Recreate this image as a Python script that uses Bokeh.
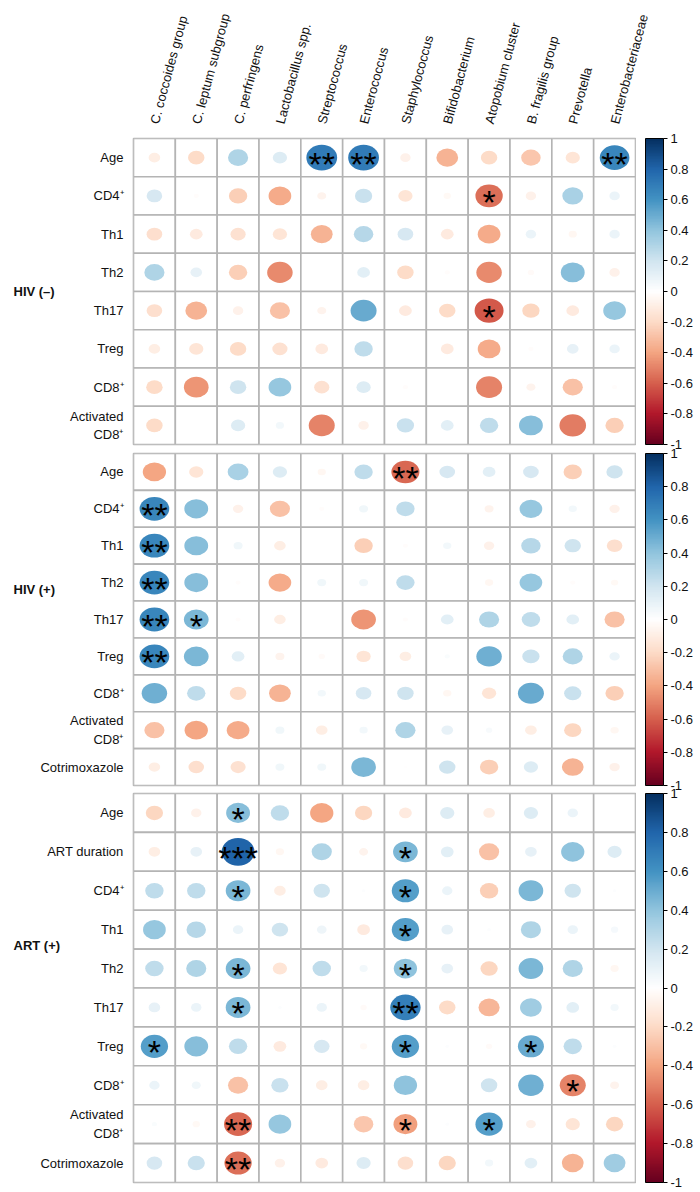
import math
import numpy as np
from bokeh.plotting import figure
from bokeh.models import (ColumnDataSource, LinearColorMapper, ColorBar, FixedTicker,
                          CustomJSTickFormatter, FactorRange, Range1d)
from bokeh.layouts import column, row
from bokeh.embed import file_html
from bokeh.resources import INLINE
from bokeh.core.properties import value

# ---------------- data ----------------
taxa = ["C. coccoides group", "C. leptum subgroup", "C. perfringens", "Lactobacillus spp.",
        "Streptococcus", "Enterococcus", "Staphylococcus", "Bifidobacterium",
        "Atopobium cluster", "B. fragilis group", "Prevotella", "Enterobacteriaceae"]

groups = ["HIV (–)", "HIV (+)", "ART (+)"]

rows_hiv_neg = ["Age", "CD4⁺", "Th1", "Th2", "Th17", "Treg", "CD8⁺", "Activated\nCD8⁺"]
r_hiv_neg = [
    [-0.10, -0.20, 0.30, 0.15, 0.70, 0.70, -0.08, -0.35, -0.20, -0.28, -0.15, 0.65],
    [0.18, -0.02, -0.25, -0.38, -0.06, 0.22, -0.15, -0.04, -0.55, -0.08, 0.32, 0.08],
    [-0.18, -0.12, -0.17, -0.15, -0.35, 0.28, 0.18, -0.12, -0.38, 0.08, -0.05, 0.08],
    [0.30, 0.10, -0.25, -0.48, 0.00, 0.12, -0.20, -0.02, -0.48, -0.03, 0.42, -0.08],
    [-0.18, -0.35, -0.08, -0.30, -0.06, 0.50, -0.12, -0.20, -0.62, -0.22, -0.12, 0.38],
    [-0.10, -0.15, -0.20, -0.17, -0.12, 0.25, 0.00, -0.12, -0.38, -0.02, 0.10, 0.08],
    [-0.20, -0.45, 0.20, 0.38, -0.17, 0.15, -0.02, 0.00, -0.50, -0.06, -0.30, -0.02],
    [-0.20, 0.00, 0.15, 0.05, -0.50, -0.08, 0.22, 0.12, 0.25, 0.42, -0.52, -0.25],
]
sig_hiv_neg = [
    ["", "", "", "", "**", "**", "", "", "", "", "", "**"],
    ["", "", "", "", "", "", "", "", "*", "", "", ""],
    ["", "", "", "", "", "", "", "", "", "", "", ""],
    ["", "", "", "", "", "", "", "", "", "", "", ""],
    ["", "", "", "", "", "", "", "", "*", "", "", ""],
    ["", "", "", "", "", "", "", "", "", "", "", ""],
    ["", "", "", "", "", "", "", "", "", "", "", ""],
    ["", "", "", "", "", "", "", "", "", "", "", ""],
]

rows_hiv_pos = ["Age", "CD4⁺", "Th1", "Th2", "Th17", "Treg", "CD8⁺", "Activated\nCD8⁺", "Cotrimoxazole"]
r_hiv_pos = [
    [-0.40, -0.15, 0.32, 0.15, -0.05, 0.25, -0.58, 0.18, 0.12, 0.18, -0.25, 0.20],
    [0.65, 0.42, -0.08, -0.30, -0.02, 0.06, 0.25, 0.00, -0.06, 0.38, 0.05, -0.08],
    [0.65, 0.42, 0.06, -0.10, 0.00, -0.25, -0.02, 0.05, -0.08, 0.28, 0.20, -0.18],
    [0.65, 0.42, -0.02, -0.38, 0.06, 0.06, 0.25, 0.00, -0.05, 0.38, -0.02, -0.04],
    [0.65, 0.45, -0.02, -0.10, 0.00, -0.45, -0.02, 0.12, 0.30, 0.25, 0.12, -0.30],
    [0.65, 0.45, 0.12, -0.06, -0.03, -0.15, -0.10, 0.02, 0.48, 0.22, 0.30, 0.08],
    [0.48, 0.25, -0.20, -0.35, 0.05, 0.18, 0.20, -0.05, -0.15, 0.50, 0.22, -0.25],
    [-0.30, -0.40, -0.38, 0.06, -0.10, 0.05, 0.30, 0.10, 0.03, -0.10, -0.22, -0.05],
    [-0.10, -0.18, -0.17, 0.06, 0.06, 0.45, -0.01, 0.20, -0.25, 0.15, -0.35, -0.08],
]
sig_hiv_pos = [
    ["", "", "", "", "", "", "**", "", "", "", "", ""],
    ["**", "", "", "", "", "", "", "", "", "", "", ""],
    ["**", "", "", "", "", "", "", "", "", "", "", ""],
    ["**", "", "", "", "", "", "", "", "", "", "", ""],
    ["**", "*", "", "", "", "", "", "", "", "", "", ""],
    ["**", "", "", "", "", "", "", "", "", "", "", ""],
    ["", "", "", "", "", "", "", "", "", "", "", ""],
    ["", "", "", "", "", "", "", "", "", "", "", ""],
    ["", "", "", "", "", "", "", "", "", "", "", ""],
]

rows_art = ["Age", "ART duration", "CD4⁺", "Th1", "Th2", "Th17", "Treg", "CD8⁺",
            "Activated\nCD8⁺", "Cotrimoxazole"]
r_art = [
    [-0.22, -0.08, 0.42, 0.25, -0.40, -0.22, -0.12, 0.15, -0.10, 0.15, 0.08, 0.00],
    [-0.10, 0.10, 0.80, -0.05, 0.30, -0.06, 0.45, 0.12, -0.30, 0.10, 0.40, 0.15],
    [0.25, 0.25, 0.45, -0.10, 0.20, 0.01, 0.55, 0.08, -0.25, 0.45, 0.20, 0.01],
    [0.38, 0.28, 0.08, 0.20, 0.07, -0.12, 0.55, 0.10, 0.01, 0.30, 0.08, 0.04],
    [0.25, 0.30, 0.45, -0.15, 0.25, 0.05, 0.40, 0.10, -0.22, 0.45, 0.30, -0.05],
    [0.10, 0.08, 0.45, 0.01, 0.08, -0.03, 0.68, -0.20, -0.33, 0.35, 0.12, 0.05],
    [0.55, 0.42, 0.25, -0.12, 0.18, -0.04, 0.55, 0.01, -0.03, 0.50, 0.25, 0.01],
    [0.08, 0.06, -0.30, 0.22, -0.10, -0.10, 0.40, 0.00, 0.20, 0.48, -0.50, -0.06],
    [0.02, -0.04, -0.58, 0.38, 0.00, -0.28, -0.42, 0.01, 0.55, -0.07, -0.15, -0.22],
    [0.18, 0.22, -0.55, -0.08, -0.12, 0.15, -0.18, -0.22, 0.05, 0.12, -0.35, 0.35],
]
sig_art = [
    ["", "", "*", "", "", "", "", "", "", "", "", ""],
    ["", "", "***", "", "", "", "*", "", "", "", "", ""],
    ["", "", "*", "", "", "", "*", "", "", "", "", ""],
    ["", "", "", "", "", "", "*", "", "", "", "", ""],
    ["", "", "*", "", "", "", "*", "", "", "", "", ""],
    ["", "", "*", "", "", "", "**", "", "", "", "", ""],
    ["*", "", "", "", "", "", "*", "", "", "*", "", ""],
    ["", "", "", "", "", "", "", "", "", "", "*", ""],
    ["", "", "**", "", "", "", "*", "", "*", "", "", ""],
    ["", "", "**", "", "", "", "", "", "", "", "", ""],
]

cb_ticks = [-1, -0.8, -0.6, -0.4, -0.2, 0, 0.2, 0.4, 0.6, 0.8, 1]

# ---------------- style ----------------
FONT = "Liberation Sans"
GRID = "#b4b4b4"
TXT = "#111111"
anchors = ["#67001F", "#B2182B", "#D6604D", "#F4A582", "#FDDBC7", "#FFFFFF",
           "#D1E5F0", "#92C5DE", "#4393C3", "#2166AC", "#053061"]


def ramp(cols, n=200):
    rgb = np.array([[int(c[i:i + 2], 16) for i in (1, 3, 5)] for c in cols], dtype=float)
    pos = np.linspace(0, 1, len(cols))
    t = np.linspace(0, 1, n)
    out = np.stack([np.interp(t, pos, rgb[:, k]) for k in range(3)], axis=1)
    return ["#%02x%02x%02x" % tuple(int(round(v)) for v in rw) for rw in out]


palette = ramp(anchors)
mapper = LinearColorMapper(palette=palette, low=-1, high=1)

FRAME_W = 502
LEFT_W = 132
HEAD_H = 125          # height of the header strip
RIGHT_W = 63          # colour-bar column
xr = FactorRange(*taxa)

# (frame height, top border, bottom border, group label position in rows from top)
layout_spec = [(306, 13, 5, 4.0), (332, 4, 4, 3.7), (389, 4, 8, 3.9)]


def panel(rows, vals, sigs, group, spec):
    frame_h, top, bottom, grp_pos = spec
    xs, ys, rs, ws, hs, ss = [], [], [], [], [], []
    for i, rname in enumerate(rows):
        for j, t in enumerate(taxa):
            r = vals[i][j]
            xs.append(t)
            ys.append(rname)
            rs.append(r)
            ws.append(0.88 * math.sqrt(abs(r)))
            hs.append(0.80 * math.sqrt(abs(r)))
            ss.append(sigs[i][j])
    src = ColumnDataSource(dict(x=xs, y=ys, r=rs, w=ws, h=hs, s=ss))

    yr = FactorRange(*list(reversed(rows)))
    p = figure(x_range=xr, y_range=yr, frame_width=FRAME_W, frame_height=frame_h,
               min_border_left=1, min_border_right=1, min_border_top=top,
               min_border_bottom=bottom, x_axis_location=None, y_axis_location=None,
               output_backend="svg", toolbar_location=None, tools="")
    p.grid.visible = False
    p.outline_line_color = GRID
    p.outline_line_width = 1.6
    p.background_fill_color = "white"

    p.rect(x="x", y="y", width=1, height=1, source=src, fill_color="white",
           line_color=GRID, line_width=1.6)
    p.ellipse(x="x", y="y", width="w", height="h", source=src,
              fill_color={"field": "r", "transform": mapper}, line_color=None)
    p.text(x="x", y="y", text="s", source=src, text_align="center",
           text_baseline="alphabetic", y_offset=6, text_font=value(FONT),
           text_font_size="34px", text_color="black")

    # left column: row labels and group label, sharing the panel's row scale
    g = figure(x_range=Range1d(0, 1), y_range=yr, frame_width=LEFT_W, frame_height=frame_h,
               min_border_left=0, min_border_right=0, min_border_top=top,
               min_border_bottom=bottom, output_backend="svg", toolbar_location=None,
               tools="")
    g.axis.visible = False
    g.grid.visible = False
    g.outline_line_color = None
    lsrc = ColumnDataSource(dict(x=[1] * len(rows), y=rows, t=rows))
    g.text(x="x", y="y", text="t", source=lsrc, x_offset=-9, text_align="right",
           text_baseline="middle", text_font=value(FONT), text_font_size="13px",
           text_color=TXT, text_line_height=1.25)
    gsrc = ColumnDataSource(dict(x=[0], y=[len(rows) - grp_pos], t=[group]))
    g.text(x="x", y="y", text="t", source=gsrc, x_offset=13, text_align="left",
           text_baseline="middle", text_font=value(FONT), text_font_size="13px",
           text_font_style="bold", text_color=TXT)
    return g, p


parts = [panel(rows_hiv_neg, r_hiv_neg, sig_hiv_neg, groups[0], layout_spec[0]),
         panel(rows_hiv_pos, r_hiv_pos, sig_hiv_pos, groups[1], layout_spec[1]),
         panel(rows_art, r_art, sig_art, groups[2], layout_spec[2])]

# header strip with the rotated taxon names
head = figure(x_range=xr, y_range=Range1d(0, 1), frame_width=FRAME_W, frame_height=1,
              min_border_left=LEFT_W + 1, min_border_right=RIGHT_W + 1,
              min_border_top=HEAD_H - 1, min_border_bottom=0, x_axis_location="above",
              y_axis_location=None, output_backend="svg", toolbar_location=None, tools="")
head.grid.visible = False
head.outline_line_color = None
xa = head.xaxis[0]
xa.axis_line_color = None
xa.major_tick_line_color = None
xa.major_tick_out = 0
xa.major_tick_in = 0
xa.major_label_standoff = 1
xa.major_label_orientation = math.radians(75)
xa.major_label_text_font = FONT
xa.major_label_text_font_size = "13px"
xa.major_label_text_color = TXT

# colour-bar column spanning all three panels
total_h = sum(fh + t + b for fh, t, b, _ in layout_spec)
cbar = figure(x_range=Range1d(0, 1), y_range=Range1d(0, 1), frame_width=RIGHT_W,
              frame_height=total_h, min_border=0, x_axis_location=None,
              y_axis_location=None, output_backend="svg", toolbar_location=None, tools="")
cbar.grid.visible = False
cbar.outline_line_color = None
below = total_h
for fh, t, b, _ in layout_spec:
    below -= t + fh            # distance of this panel's frame bottom from the column bottom
    cb = ColorBar(color_mapper=mapper, ticker=FixedTicker(ticks=cb_ticks),
                  formatter=CustomJSTickFormatter(code="return String(Math.round(tick*10)/10);"),
                  width=18, height=fh, padding=0, margin=0, location=(9, below),
                  bar_line_color="black", bar_line_width=1,
                  major_tick_out=4, major_tick_in=0, major_tick_line_color="black",
                  minor_tick_line_color=None,
                  major_label_text_font=FONT, major_label_text_font_size="13px",
                  major_label_text_color=TXT, label_standoff=3,
                  background_fill_alpha=0, border_line_color=None)
    cbar.add_layout(cb, "center")
    below -= b

body = row(column(*[g for g, _ in parts], spacing=0),
           column(*[p for _, p in parts], spacing=0),
           cbar, spacing=0)
layout = column(head, body, spacing=0)
open("out.html", "w").write(file_html(layout, INLINE))
